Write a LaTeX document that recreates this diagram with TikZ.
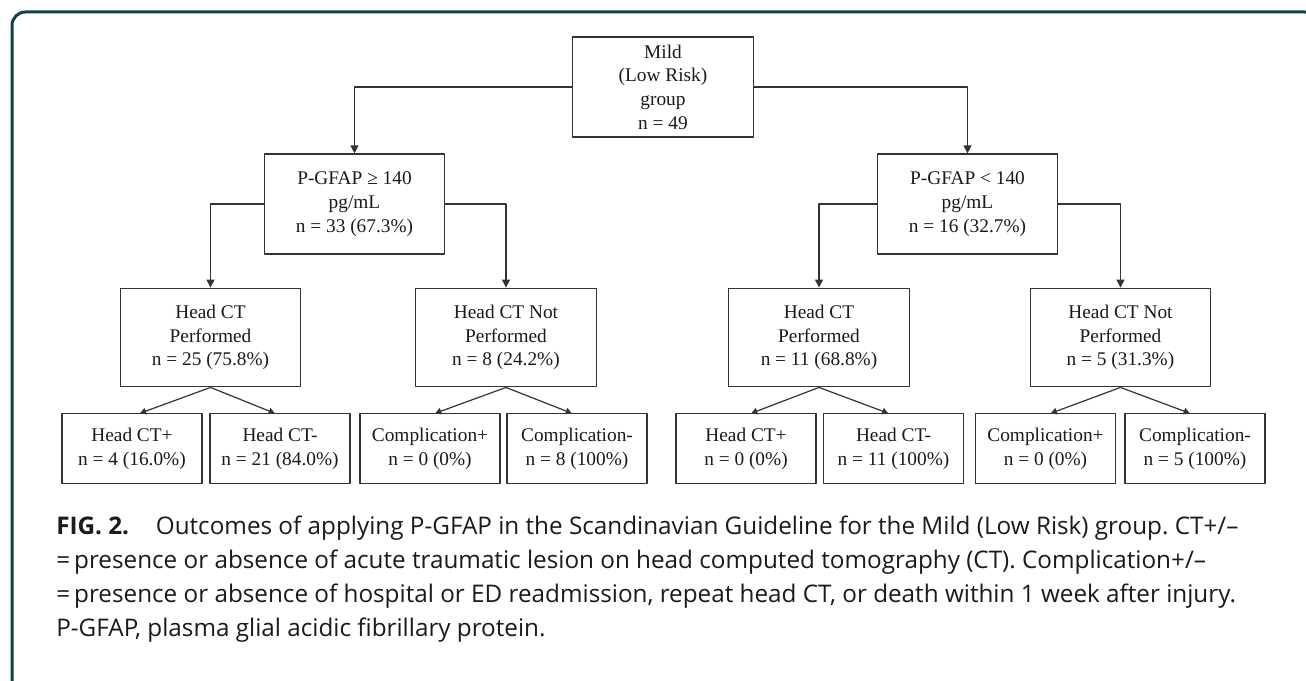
\documentclass[tikz,border=0pt]{standalone}
\usepackage{fontspec}
\setmainfont{Liberation Serif}
\newfontfamily\capfont{Open Sans}
\usetikzlibrary{arrows.meta,positioning,calc}
\definecolor{Frame}{HTML}{0B4252}
\definecolor{Ink}{HTML}{333333}
\definecolor{Txt}{HTML}{1A1A1A}
\frenchspacing
\tikzset{
  box/.style={draw=Ink,line width=0.9pt,fill=white,align=center,inner sep=0pt,font=\fontsize{14.5}{17.8}\selectfont,text=Txt},
  bigbox/.style={box,minimum width=135.5pt,minimum height=75pt},
  leafbox/.style={box,minimum width=105pt,minimum height=52pt},
  arr/.style={-{Triangle[length=6pt,width=6pt]},line width=0.9pt,draw=Ink},
  darr/.style={-{Triangle[length=4.5pt,width=5pt]},line width=0.9pt,draw=Ink},
  captext/.style={anchor=base west,align=left,inner sep=0pt,text=Txt,font=\capfont\fontsize{18.2}{25.5}\selectfont},
}

\begin{document}
\begin{tikzpicture}[x=0.75pt,y=-0.75pt,line join=round]
\useasboundingbox (0,0) rectangle (1306,681);
\draw[Frame,line width=2.25pt,rounded corners=10pt] (12,12) rectangle (1318,693);
% top of the tree
\node[bigbox] (mild) at (663,87) {Mild\\(Low Risk)\\group\\n = 49};
\node[bigbox] (hiL) at (354.5,204) {P-GFAP ≥ 140\\pg/mL\\n = 33 (67.3\%)};
\node[bigbox] (loR) at (967.5,204) {P-GFAP < 140\\pg/mL\\n = 16 (32.7\%)};
\draw[arr] (mild.west) -| (hiL.north);
\draw[arr] (mild.east) -| (loR.north);
% head CT level
\node[bigbox,minimum height=74pt] (ctL) at (210.5,337.5) {Head CT\\Performed\\n = 25 (75.8\%)};
\node[bigbox,minimum height=74pt] (noL) at (506,337.5) {Head CT Not\\Performed\\n = 8 (24.2\%)};
\node[bigbox,minimum height=74pt] (ctR) at (819,337.5) {Head CT\\Performed\\n = 11 (68.8\%)};
\node[bigbox,minimum height=74pt] (noR) at (1120.5,337.5) {Head CT Not\\Performed\\n = 5 (31.3\%)};
\draw[arr] (hiL.west) -| (ctL.north);
\draw[arr] (hiL.east) -| (noL.north);
\draw[arr] (loR.west) -| (ctR.north);
\draw[arr] (loR.east) -| (noR.north);
% outcomes
\node[leafbox] (posL) at (132,448.5) {Head CT+\\n = 4 (16.0\%)};
\node[leafbox] (negL) at (280,448.5) {Head CT-\\n = 21 (84.0\%)};
\node[leafbox] (cpL) at (430,448.5) {Complication+\\n = 0 (0\%)};
\node[leafbox] (cmL) at (577,448.5) {Complication-\\n = 8 (100\%)};
\node[leafbox] (posR) at (746,448.5) {Head CT+\\n = 0 (0\%)};
\node[leafbox] (negR) at (893.5,448.5) {Head CT-\\n = 11 (100\%)};
\node[leafbox] (cpR) at (1045.5,448.5) {Complication+\\n = 0 (0\%)};
\node[leafbox] (cmR) at (1195,448.5) {Complication-\\n = 5 (100\%)};
\draw[darr] (ctL.south) -- ([xshift=6pt]posL.north);
\draw[darr] (ctL.south) -- ([xshift=-4pt]negL.north);
\draw[darr] (noL.south) -- ([xshift=4pt]cpL.north);
\draw[darr] (noL.south) -- ([xshift=-4pt]cmL.north);
\draw[darr] (ctR.south) -- ([xshift=4pt]posR.north);
\draw[darr] (ctR.south) -- ([xshift=-4pt]negR.north);
\draw[darr] (noR.south) -- ([xshift=4pt]cpR.north);
\draw[darr] (noR.south) -- ([xshift=-4pt]cmR.north);
% caption (base = last line)
\node[captext] (caption) at (56,636.7) {\textbf{FIG. 2.}\hspace{1.1em}Outcomes of applying P-GFAP in the Scandinavian Guideline for the Mild (Low Risk) group. CT+/–\\
=\,presence or absence of acute traumatic lesion on head computed tomography (CT). Complication+/–\\
=\,presence or absence of hospital or ED readmission, repeat head CT, or death within 1 week after injury.\\
P-GFAP, plasma glial acidic fibrillary protein.};
\end{tikzpicture}
\end{document}
